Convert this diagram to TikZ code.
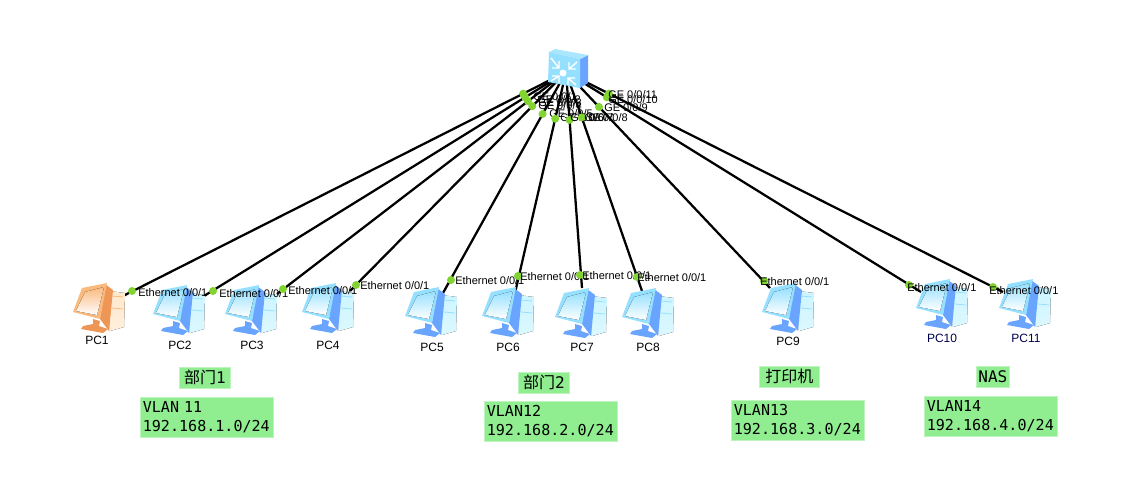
\documentclass[tikz,border=0pt]{standalone}
\usepackage{fontspec}
\setmainfont{Liberation Sans}
\setmonofont{DejaVu Sans Mono}
\newfontfamily\cjkfont{Noto Sans CJK SC}
\usetikzlibrary{calc}
\definecolor{tagfill}{RGB}{144,238,144}
\definecolor{tagedge}{RGB}{190,245,190}
\definecolor{portgreen}{RGB}{130,212,50}
\definecolor{blueface}{RGB}{150,224,255}
\definecolor{bluedark}{RGB}{105,165,255}
\definecolor{bluelight}{RGB}{205,245,255}
\definecolor{orangeface}{RGB}{250,185,125}
\definecolor{orangedark}{RGB}{238,150,85}
\definecolor{orangelight}{RGB}{255,232,205}
\tikzset{
  link/.style={line width=1.7pt, black},
  portdot/.style={circle, fill=portgreen, inner sep=0pt, minimum size=6pt},
  portlab/.style={anchor=west, inner sep=0pt, font=\fontsize{8.25}{10}\selectfont},
  pclab/.style={inner sep=0pt, font=\fontsize{9}{11}\selectfont},
  grouptag/.style={fill=tagfill, draw=tagedge, line width=0.5pt, anchor=north west, inner sep=0pt,
    font=\fontsize{12}{14}\selectfont\ttfamily},
  vlantag/.style={fill=tagfill, draw=tagedge, line width=0.5pt, anchor=north west, align=left,
    inner xsep=1.5pt, inner ysep=0pt, minimum width=99.75pt, minimum height=30pt, text width=96pt,
    font=\fontsize{11.3}{14.6}\selectfont\ttfamily},
  pics/pcicon/.style n args={3}{code={
    \fill[top color=#3, bottom color=#3!70!white] (36,8) -- (52,10) -- (51,44) -- (37,48) -- cycle;
    \fill[#2] (32,1) -- (40,7) -- (36,48) -- (27,36) -- cycle;
    \draw[#1, line width=0.6pt] (39,13) -- (50,14) (39,25) -- (50,26);
    \fill[#2] (20,36) -- (27,38) -- (26,43) -- (20,42) -- cycle;
    \fill[#2] (10,43) -- (20,41) -- (35,46) -- (30,50) -- (8,46) -- cycle;
    \fill[#1] (9,5) -- (34,0) -- (27,36) -- (0,29) -- cycle;
    \fill[top color=#1, bottom color=white] (12,9) -- (31,4) -- (24,32) -- (3,28) -- cycle;
  }}
}
\begin{document}
\begin{tikzpicture}[x=0.75pt, y=-0.75pt, >=latex]
  \useasboundingbox (0,0) rectangle (1132,493);
  \coordinate (sw) at (566,72);
  % links, the end sits where the line meets the icon
  \foreach \i/\ex/\ey in {1/123/296,2/204/296,3/277/294,4/350/291,5/443/293,6/515/293,
      7/582/288,8/642/291,9/770/288,10/921/292,11/1003/292}{
    \coordinate (end\i) at (\ex,\ey);
    \draw[link] (sw) -- (end\i);
  }
  % icons
  \foreach \ix/\iy in {153/285,225/285,302/283,405/287,482/287,555/288,622/288,762/283,916/279,999/279}{
    \pic at (\ix,\iy) {pcicon={blueface}{bluedark}{bluelight}};
  }
  \pic at (73,283) {pcicon={orangeface}{orangedark}{orangelight}};
  % switch
  \fill[bluedark] (580,59) -- (588,55) -- (588,83) -- (580,88) -- cycle;
  \fill[blueface!80!white] (549,52) -- (555,49) -- (588,55) -- (580,59) -- cycle;
  \fill[blueface] (549,52) -- (580,59) -- (580,88) -- (548,82) -- cycle;
  \fill[white] (563,73) circle (3.5);
  \foreach \ax/\ay/\bx/\by/\sx/\sy in {551/58/559/68/1/1,577/62/569/69/-1/1,
      551/81/559/76/1/-1,576/85/568/78/-1/-1}{
    \draw[white, line width=1.1pt] (\ax,\ay) -- (\bx,\by) (\bx-\sx*7,\by) -- (\bx,\by) -- (\bx,\by-\sy*7);
  }
  % ports on the switch
  \foreach \i/\gx/\gy in {1/533/97,2/537/100,3/538/103,4/538/106,5/549/114,6/560/118,7/570/118,
      8/584/118,9/604/108,10/608/100,11/608/95}{
    \node[portdot] (ge\i) at ($(sw)!36pt!(end\i)$) {};
    \node[portlab] (gelab\i) at (\gx,\gy) {GE 0/0/\i};
  }
  % ports on the hosts
  \foreach \i/\dx/\dy/\lx/\ly in {1/132/291/138/293,2/213/291/219/294,3/283/289/288/291,
      4/356/285/360/286,5/451/280/455/281,6/518/276/520/277,7/580/275/582/276,8/637/277/637/278,
      9/764/281/760/282,10/909/285/907/288,11/993/287/989/291}{
    \node[portdot] (eth\i) at (\dx,\dy) {};
    \node[portlab] (ethlab\i) at (\lx,\ly) {Ethernet 0/0/1};
  }
  % host names
  \foreach \i/\nx/\ny in {1/97/340,2/180/345,3/252/345,4/328/345,5/432/347,6/508/347,7/582/347,
      8/648/347,9/788/341}{
    \node[pclab] (pc\i) at (\nx,\ny) {PC\i};
  }
  \node[pclab, text=blue!30!black] (pc10) at (942,338) {PC10};
  \node[pclab, text=blue!30!black] (pc11) at (1026,338) {PC11};
  % tags
  \node[grouptag, minimum width=38.25pt, minimum height=15.75pt] (dept1) at (179,367) {{\cjkfont 部门}1};
  \node[grouptag, minimum width=38.25pt, minimum height=15.75pt] (dept2) at (518,372) {{\cjkfont 部门}2};
  \node[grouptag, minimum width=45pt, minimum height=15.75pt] (printer) at (759,366) {{\cjkfont 打印机}};
  \node[grouptag, minimum width=24.75pt, minimum height=15.75pt] (nas) at (976,366) {NAS};
  \node[vlantag] (vlan11) at (140,397) {VLAN 11\\192.168.1.0/24};
  \node[vlantag] (vlan12) at (484,401) {VLAN12\\192.168.2.0/24};
  \node[vlantag] (vlan13) at (731,400) {VLAN13\\192.168.3.0/24};
  \node[vlantag] (vlan14) at (924,396) {VLAN14\\192.168.4.0/24};
\end{tikzpicture}
\end{document}
